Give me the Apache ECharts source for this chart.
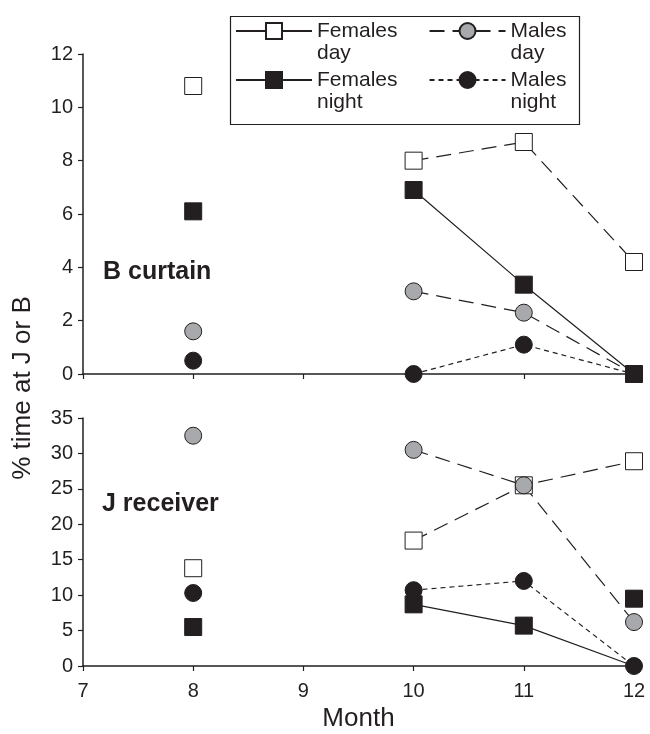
<!DOCTYPE html>
<html>
<head>
<meta charset="utf-8">
<script src="https://cdn.jsdelivr.net/npm/echarts@6/dist/echarts.min.js"></script>
<style>html,body{margin:0;padding:0;background:#fff}#c{width:650px;height:734px}</style>
</head>
<body>
<div id="c"></div>
<script>
// ---- data ----
const months = [8, 9, 10, 11, 12];
const xTicks = [7, 8, 9, 10, 11, 12];
// B curtain (top panel)
const bFemDay    = [10.8, null, 8.0, 8.7, 4.2];
const bMaleDay   = [1.6,  null, 3.1, 2.3, 0];
const bMaleNight = [0.5,  null, 0,   1.1, 0];
const bFemNight  = [6.1,  null, 6.9, 3.35, 0];
// J receiver (bottom panel)
const jFemDay    = [13.8, null, 17.7, 25.5, 28.9];
const jMaleDay   = [32.5, null, 30.5, 25.5, 6.2];
const jMaleNight = [10.3, null, 10.7, 12.0, 0];
const jFemNight  = [5.5,  null, 8.7, 5.7, 9.5];
const jFemNightLineEnd = 0; // line of females night runs to 0 at month 12
const bTicks = [0, 2, 4, 6, 8, 10, 12];
const jTicks = [0, 5, 10, 15, 20, 25, 30, 35];

const INK = '#231f20';
const GRAY = '#a7a9ac';
const FONT = 'Liberation Sans, Arial, sans-serif';

function pts(arr) {
  return arr.map((v, i) => [months[i], v === null ? '-' : v]);
}

const styles = {
  femDay:    {name: 'Females\nday',   symbol: 'rect',   color: '#fff', dash: [15, 8]},
  maleDay:   {name: 'Males\nday',     symbol: 'circle', color: GRAY,   dash: [15, 8]},
  maleNight: {name: 'Males\nnight',   symbol: 'circle', color: INK,    dash: [5, 4]},
  femNight:  {name: 'Females\nnight', symbol: 'rect',   color: INK,    dash: 'solid'}
};

function mk(key, data, gi) {
  const s = styles[key];
  return {
    type: 'line', name: s.name, xAxisIndex: gi, yAxisIndex: gi,
    data: data, symbol: s.symbol, symbolSize: 17, connectNulls: false,
    showAllSymbol: true,
    lineStyle: {color: INK, width: 1.2, type: s.dash},
    itemStyle: {color: s.color, borderColor: INK, borderWidth: 1, opacity: 1},
    emphasis: {disabled: true}, animation: false
  };
}

const jFemNightPts = pts(jFemNight).slice(0, 4);
jFemNightPts.push({value: [12, jFemNightLineEnd], symbol: 'none'});

const series = [
  mk('femDay', pts(bFemDay), 0),
  mk('maleDay', pts(bMaleDay), 0),
  mk('maleNight', pts(bMaleNight), 0),
  mk('femNight', pts(bFemNight), 0),
  mk('femDay', pts(jFemDay), 1),
  mk('maleDay', pts(jMaleDay), 1),
  mk('maleNight', pts(jMaleNight), 1),
  mk('femNight', jFemNightPts, 1),
  Object.assign(mk('femNight', [[12, jFemNight[4]]], 1), {type: 'scatter'})
];

const axisLine = {show: true, lineStyle: {color: INK, width: 1.5}};
const axisTick = {show: true, inside: false, length: 5, lineStyle: {color: INK, width: 1.2}};
const lab = {color: INK, fontSize: 20, fontFamily: FONT};

function xa(gi, showLab) {
  return {
    type: 'value', gridIndex: gi, min: 7, max: 12, interval: 1,
    axisLine: axisLine, axisTick: axisTick, splitLine: {show: false},
    axisLabel: Object.assign({show: showLab, margin: 15}, lab),
    name: showLab ? 'Month' : '', nameLocation: 'middle', nameGap: 40,
    nameTextStyle: {color: INK, fontSize: 26, fontFamily: FONT}
  };
}
function ya(gi, max, step) {
  return {
    type: 'value', gridIndex: gi, min: 0, max: max, interval: step,
    axisLine: axisLine, axisTick: axisTick, splitLine: {show: false},
    axisLabel: Object.assign({margin: 10}, lab)
  };
}

function legendRow(top, names) {
  return {
    left: 235, top: top, orient: 'horizontal', itemWidth: 76, itemHeight: 20,
    itemGap: 31, padding: 0, selectedMode: false,
    formatter: n => ' \n' + n,
    textStyle: {color: INK, fontSize: 21, fontFamily: FONT, lineHeight: 22},
    data: names
  };
}

const option = {
  backgroundColor: '#fff',
  animation: false,
  grid: [
    {left: 83, right: 16, top: 54, height: 320, containLabel: false},
    {left: 83, right: 16, top: 418, height: 248, containLabel: false}
  ],
  xAxis: [xa(0, false), xa(1, true)],
  yAxis: [ya(0, 12, 2), ya(1, 35, 5)],
  legend: [
    legendRow(-2, [{name: 'Females\nday', lineStyle: {type: 'solid'}}, {name: 'Males\nday'}]),
    legendRow(47, [{name: 'Females\nnight'}, {name: 'Males\nnight'}])
  ],
  graphic: [
    {type: 'rect', left: 228, top: 14, shape: {width: 349, height: 108}, silent: true,
     style: {fill: 'none', stroke: INK, lineWidth: 1.2}, z: -1},
    {type: 'text', x: 103, y: 272, silent: true,
     style: {text: 'B curtain', font: 'bold 25px ' + FONT, fill: INK, verticalAlign: 'middle'}},
    {type: 'text', x: 102, y: 504, silent: true,
     style: {text: 'J receiver', font: 'bold 25px ' + FONT, fill: INK, verticalAlign: 'middle'}},
    {type: 'text', x: 23, y: 388, rotation: Math.PI / 2, silent: true,
     style: {text: '% time at J or B', font: '26px ' + FONT, fill: INK, align: 'center', verticalAlign: 'middle'}}
  ],
  series: series
};

const chart = echarts.init(document.getElementById('c'), null, {renderer: 'canvas'});
chart.setOption(option);
</script>
</body>
</html>
